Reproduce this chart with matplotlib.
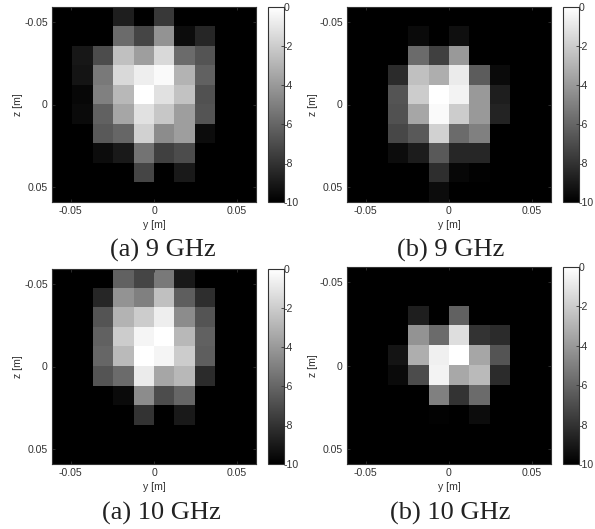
import numpy as np
import matplotlib
matplotlib.use('Agg')
import matplotlib.pyplot as plt

plt.rcParams['font.family'] = ['Liberation Sans', 'DejaVu Sans']

# dB values, rows top to bottom, columns left to right
a_9 = [
    [-10, -10, -10, -8.8, -10, -7.8, -10, -10, -10, -10],
    [-10, -10, -10, -5.8, -7.3, -4.2, -9.5, -8.5, -10, -10],
    [-10, -9.1, -7.0, -2.5, -3.8, -1.5, -5.8, -6.7, -10, -10],
    [-10, -9.2, -5.2, -1.5, -0.7, -0.2, -3.0, -6.2, -10, -10],
    [-10, -9.7, -5.0, -2.8, 0, -1.2, -2.4, -6.8, -10, -10],
    [-10, -9.6, -6.2, -3.5, -1.2, -2.2, -3.8, -6.7, -10, -10],
    [-10, -10, -6.5, -6.0, -1.8, -4.5, -3.8, -9.5, -10, -10],
    [-10, -10, -9.5, -9.0, -5.5, -7.5, -7.0, -10, -10, -10],
    [-10, -10, -10, -10, -7.3, -10, -9.0, -10, -10, -10],
    [-10, -10, -10, -10, -10, -10, -10, -10, -10, -10],
]
b_9 = [
    [-10, -10, -10, -10, -10, -10, -10, -10, -10, -10],
    [-10, -10, -10, -9.6, -10, -9.4, -10, -10, -10, -10],
    [-10, -10, -10, -5.8, -7.5, -4.0, -10, -10, -10, -10],
    [-10, -10, -8.3, -2.5, -3.2, -0.8, -6.4, -9.6, -10, -10],
    [-10, -10, -6.7, -2.0, 0, -0.5, -4.0, -8.8, -10, -10],
    [-10, -10, -6.8, -3.5, -0.2, -2.0, -4.0, -8.6, -10, -10],
    [-10, -10, -7.2, -6.5, -1.8, -5.8, -5.0, -10, -10, -10],
    [-10, -10, -9.5, -8.9, -6.5, -8.5, -8.5, -10, -10, -10],
    [-10, -10, -10, -10, -8.2, -9.7, -9.9, -10, -10, -10],
    [-10, -10, -10, -10, -9.5, -10, -10, -10, -10, -10],
]
a_10 = [
    [-10, -10, -10, -6.2, -7.3, -5.2, -9.0, -10, -10, -10],
    [-10, -10, -8.5, -4.2, -5.0, -2.5, -6.3, -8.2, -10, -10],
    [-10, -10, -6.7, -3.0, -2.0, -0.7, -4.5, -6.7, -10, -10],
    [-10, -10, -6.2, -2.0, -0.4, 0, -2.8, -6.2, -10, -10],
    [-10, -10, -6.0, -2.7, 0, -0.4, -2.0, -6.3, -10, -10],
    [-10, -10, -6.7, -5.8, -0.8, -3.5, -2.8, -8.3, -10, -10],
    [-10, -10, -10, -9.6, -4.5, -7.0, -6.0, -10, -10, -10],
    [-10, -10, -10, -10, -8.0, -10, -9.0, -10, -10, -10],
    [-10, -10, -10, -10, -10, -10, -10, -10, -10, -10],
    [-10, -10, -10, -10, -10, -10, -10, -10, -10, -10],
]
b_10 = [
    [-10, -10, -10, -10, -10, -10, -10, -10, -10, -10],
    [-10, -10, -10, -10, -10, -10, -10, -10, -10, -10],
    [-10, -10, -10, -8.8, -10, -6.2, -10, -10, -10, -10],
    [-10, -10, -10, -4.2, -5.8, -1.3, -8.0, -8.3, -10, -10],
    [-10, -10, -9.2, -3.2, -0.6, 0, -3.5, -6.7, -10, -10],
    [-10, -10, -9.6, -7.0, -0.5, -3.4, -2.7, -8.3, -10, -10],
    [-10, -10, -10, -10, -5.0, -8.0, -5.8, -10, -10, -10],
    [-10, -10, -10, -10, -9.9, -10, -9.5, -10, -10, -10],
    [-10, -10, -10, -10, -10, -10, -10, -10, -10, -10],
    [-10, -10, -10, -10, -10, -10, -10, -10, -10, -10],
]

panels = [a_9, b_9, a_10, b_10]
captions = ['(a) 9 GHz', '(b) 9 GHz', '(a) 10 GHz', '(b) 10 GHz']
lefts = [52, 347, 52, 347]
tops = [7, 7, 269, 267]
heights = [195, 195, 195, 197]
caption_x = [163, 451, 161, 450]
caption_y = [250, 250, 513, 513]
ticks = [-0.05, 0, 0.05]
tick_labels = ['-0.05', '0', '0.05']
cbar_ticks = [0, -2, -4, -6, -8, -10]

W, H = 595, 529
ink = '#333333'
fig = plt.figure(figsize=(W / 100, H / 100), dpi=100)


def px_axes(x, y, w, h):
    return fig.add_axes([x / W, 1 - (y + h) / H, w / W, h / H])


for i in range(4):
    ax = px_axes(lefts[i], tops[i], 204, heights[i])
    im = ax.imshow(np.array(panels[i]), cmap='gray', vmin=-10, vmax=0, aspect='auto',
                   interpolation='nearest', extent=[-0.0613, 0.0613, 0.0589, -0.0589])
    ax.set_xticks(ticks)
    ax.set_xticklabels(tick_labels)
    ax.set_yticks(ticks)
    ax.set_yticklabels(tick_labels)
    ax.tick_params(direction='in', length=2, width=0.6, labelsize=7.6, colors=ink, pad=3,
                   top=True, right=True)
    ax.set_xlabel('y [m]', fontsize=7.6, color=ink, labelpad=2.5)
    ax.set_ylabel('z [m]', fontsize=7.6, color=ink, labelpad=1)
    for s in ax.spines.values():
        s.set_color(ink)
        s.set_linewidth(0.8)

    cax = px_axes(lefts[i] + 216, tops[i], 16, heights[i])
    cb = fig.colorbar(im, cax=cax)
    cb.set_ticks(cbar_ticks)
    cb.set_ticklabels(['0', '-2', '-4', '-6', '-8', '-10'])
    cb.ax.tick_params(direction='in', length=2, width=0.6, labelsize=7.6, colors=ink, pad=0)
    cb.outline.set_edgecolor(ink)
    cb.outline.set_linewidth(0.8)

    fig.text(caption_x[i] / W, 1 - caption_y[i] / H, captions[i], fontsize=19,
             family=['Liberation Serif', 'DejaVu Serif'], color='#222222',
             ha='center', va='center')

fig.savefig('out.png', dpi=100)
